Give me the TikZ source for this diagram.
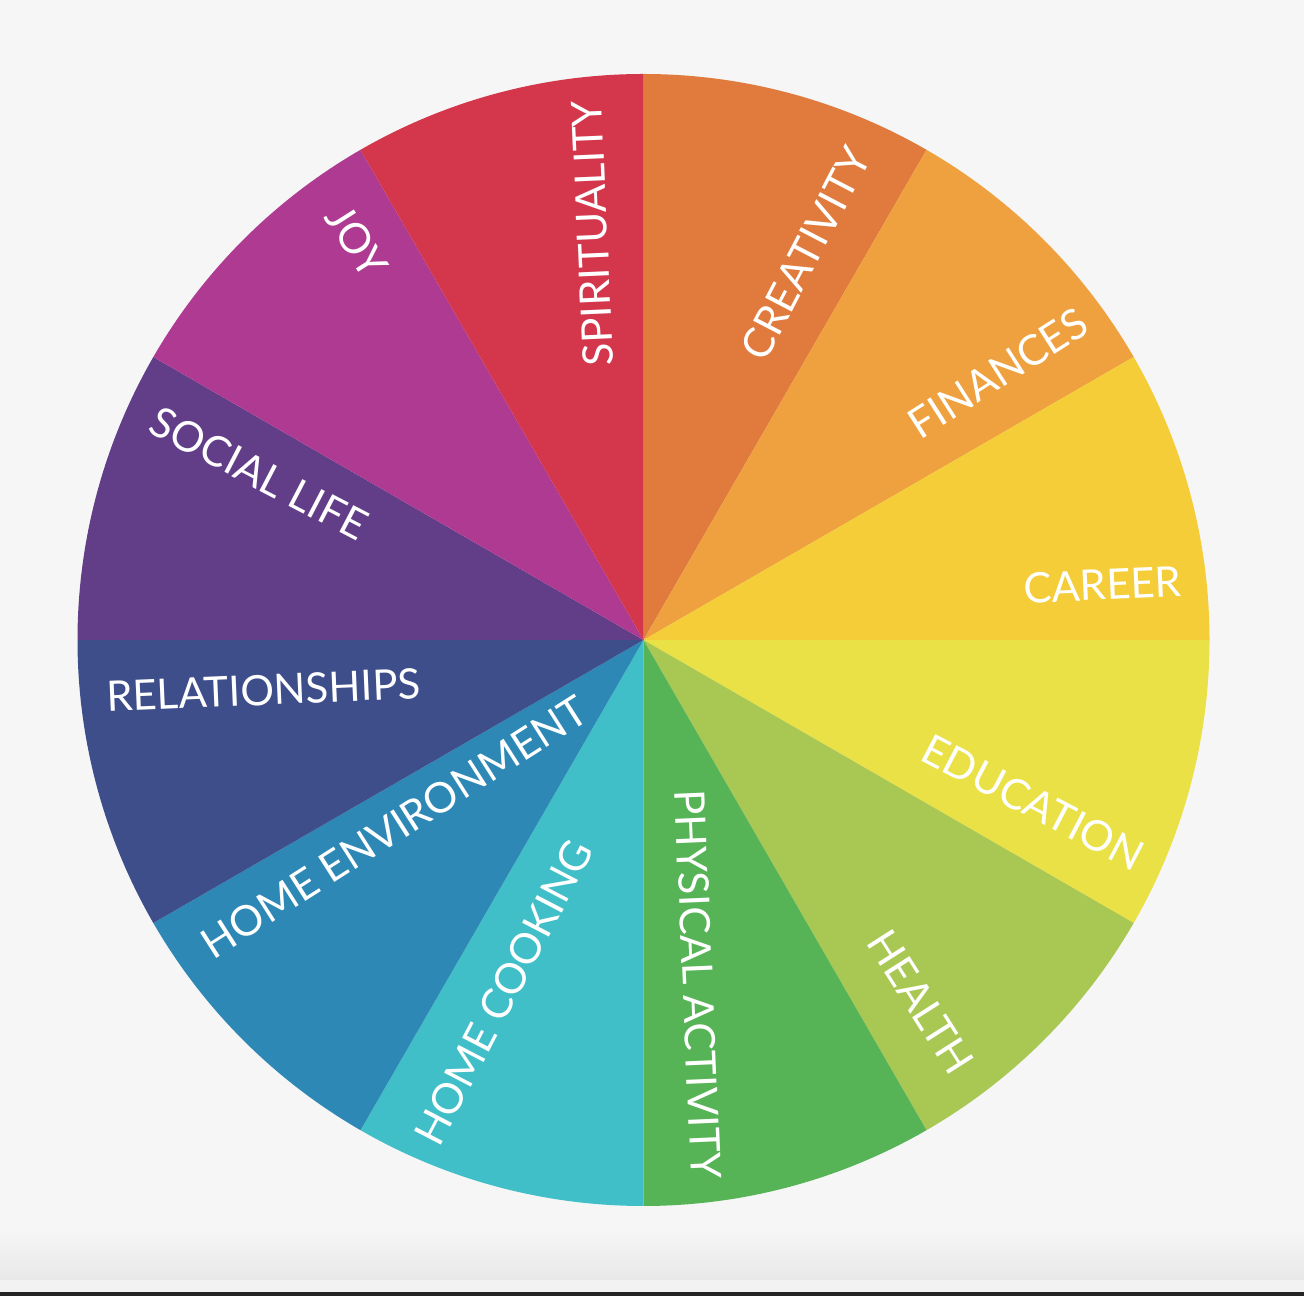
\documentclass[tikz,border=0pt]{standalone}
\usepackage{fontspec}
\setmainfont{Lato}
\definecolor{bg}{HTML}{F6F6F6}
\definecolor{cCre}{HTML}{E07A3D}
\definecolor{cFin}{HTML}{EEA13E}
\definecolor{cCar}{HTML}{F4CD38}
\definecolor{cEdu}{HTML}{EAE146}
\definecolor{cHea}{HTML}{A9C853}
\definecolor{cPhy}{HTML}{56B356}
\definecolor{cCoo}{HTML}{41BFC8}
\definecolor{cEnv}{HTML}{2D88B5}
\definecolor{cRel}{HTML}{3D4E8B}
\definecolor{cSoc}{HTML}{623E89}
\definecolor{cJoy}{HTML}{AE3A91}
\definecolor{cSpi}{HTML}{D4374B}
\begin{document}
\begin{tikzpicture}[x=1pt,y=1pt,
  lab/.style={text=white, inner sep=0pt, font=\fontsize{42}{50}\selectfont}]
\useasboundingbox (0,0) rectangle (1304,1296);
\fill[bg] (0,0) rectangle (1304,1296);
\shade[top color=bg, bottom color=black!9] (0,16) rectangle (1304,66);
\fill[black!5] (0,4) rectangle (1304,16);
\fill[black!86] (0,0) rectangle (1304,4);
\begin{scope}[shift={(643.5,656)}]
  \foreach \a/\c in {60/cCre,30/cFin,0/cCar,-30/cEdu,-60/cHea,-90/cPhy,
                     -120/cCoo,-150/cEnv,180/cRel,150/cSoc,120/cJoy,90/cSpi}{
    \fill[\c] (0,0) -- (\a:566) arc[start angle=\a, end angle=\a+30, radius=566] -- cycle;
  }
  \node[lab, rotate=62.5]  (cre) at (162,386.5)    {CREATIVITY};
  \node[lab, rotate=32.5]  (fin) at (354.25,267)   {FINANCES};
  \node[lab, rotate=2.5]   (car) at (459,55)       {CAREER};
  \node[lab, rotate=-27.5] (edu) at (389.5,-162.5) {EDUCATION};
  \node[lab, rotate=-57.5] (hea) at (277,-362)     {HEALTH};
  \node[lab, rotate=-87.5] (phy) at (54.5,-344)    {PHYSICAL ACTIVITY};
  \node[lab, rotate=62.5]  (coo) at (-140,-352.5)  {HOME COOKING};
  \node[lab, rotate=32.5]  (env) at (-249,-187)    {HOME ENVIRONMENT};
  \node[lab, rotate=2.5]   (rel) at (-380,-50)     {RELATIONSHIPS};
  \node[lab, rotate=-27.5] (soc) at (-384.5,166.5) {SOCIAL LIFE};
  \node[lab, rotate=-57.5] (joy) at (-286.5,398.25) {JOY};
  \node[lab, rotate=92.5]  (spi) at (-51,406.5)    {SPIRITUALITY};
\end{scope}
\end{tikzpicture}
\end{document}
